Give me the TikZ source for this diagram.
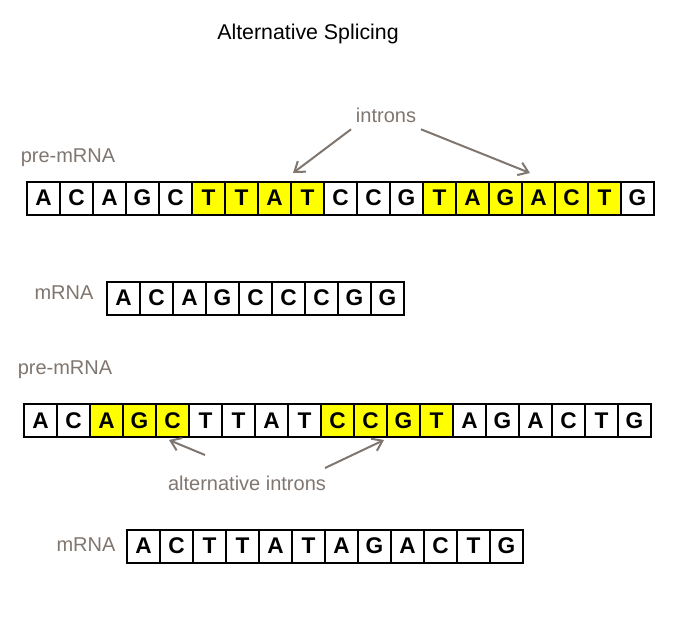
\documentclass[tikz,border=0pt]{standalone}
\usepackage{fontspec}
\setmainfont{Liberation Sans}
\usetikzlibrary{arrows.meta}
\definecolor{labelgrey}{RGB}{128,118,112}
\definecolor{exonyellow}{RGB}{255,255,0}
\tikzset{every picture/.style={line width=0.75pt}}
\tikzset{
  base/.style={draw, line width=1.5pt, minimum width=33*0.75pt, minimum height=33*0.75pt, inner sep=0pt, font=\fontsize{17}{17}\selectfont\bfseries},
  lbl/.style={text=labelgrey, font=\fontsize{15}{18}\selectfont},
  pointer/.style={draw=labelgrey, line width=1.5pt, -{Straight Barb[length=7pt,width=10pt]}}
}
\begin{document}
\begin{tikzpicture}[x=0.75pt,y=0.75pt,yscale=-1,xscale=1]
    \useasboundingbox (0,0) rectangle (674,621);

    % Title
    \node[font=\fontsize{16}{18}\selectfont] (title) at (308,34) {Alternative Splicing};

    % first pre-mRNA
    \node[lbl] (pre1) at (68,158) {pre-mRNA};
    \foreach \l/\c [count=\i] in {A/white,C/white,A/white,G/white,C/white,T/exonyellow,T/exonyellow,A/exonyellow,T/exonyellow,C/white,C/white,G/white,T/exonyellow,A/exonyellow,G/exonyellow,A/exonyellow,C/exonyellow,T/exonyellow,G/white}
      \node[base, fill=\c] (a\i) at ({27+33*(\i-0.5)},198) {\l};

    % introns
    \node[lbl] (introns) at (386,115) {introns};
    \coordinate (in1) at (293,173);
    \coordinate (in2) at (530,173);
    \draw[pointer] (introns.south west) ++(0,2) -- (in1);
    \draw[pointer] (introns.south east) ++(0,2) -- (in2);

    % first mRNA
    \node[lbl] (m1) at (64,293) {mRNA};
    \foreach \l [count=\i] in {A,C,A,G,C,C,C,G,G}
      \node[base, fill=white] (b\i) at ({107+33*(\i-0.5)},298) {\l};

    % second pre-mRNA
    \node[lbl] (pre2) at (65,370) {pre-mRNA};
    \foreach \l/\c [count=\i] in {A/white,C/white,A/exonyellow,G/exonyellow,C/exonyellow,T/white,T/white,A/white,T/white,C/exonyellow,C/exonyellow,G/exonyellow,T/exonyellow,A/white,G/white,A/white,C/white,T/white,G/white}
      \node[base, fill=\c] (c\i) at ({24+33*(\i-0.5)},420.5) {\l};

    % alternative introns
    \node[lbl] (alt) at (247,483) {alternative introns};
    \coordinate (al1) at (169,440);
    \coordinate (al2) at (384,440);
    \draw[pointer] (205,455) -- (al1);
    \draw[pointer] (325,468) -- (al2);

    % second mRNA
    \node[lbl] (m2) at (86,545) {mRNA};
    \foreach \l [count=\i] in {A,C,T,T,A,T,A,G,A,C,T,G}
      \node[base, fill=white] (d\i) at ({127+33*(\i-0.5)},546) {\l};
\end{tikzpicture}
\end{document}
